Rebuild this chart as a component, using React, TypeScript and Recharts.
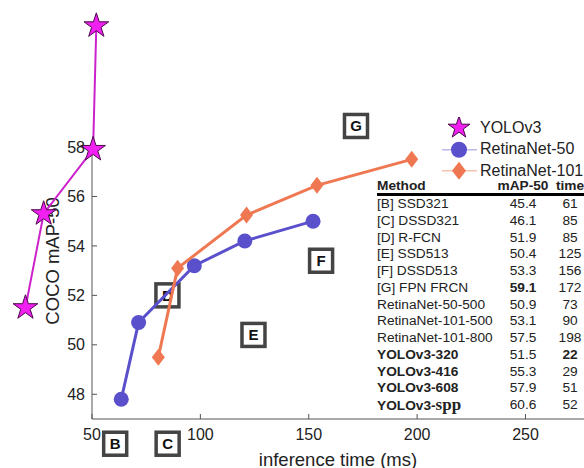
import React from "react";
import { ComposedChart, Scatter, XAxis, YAxis, ReferenceDot, Legend, Symbols } from "recharts";

// series values (time in ms, COCO mAP-50)
const yoloTime = [19.3, 27.7, 50.5, 52.0];
const yoloMap = [51.5, 55.3, 57.9, 62.9];
const r50Time = [63.5, 71.5, 97.2, 120.5, 152];
const r50Map = [47.8, 50.9, 53.2, 54.2, 55.0];
const r101Time = [80.6, 89.5, 121.3, 153.8, 197.5];
const r101Map = [49.5, 53.1, 55.25, 56.45, 57.5];

// lettered boxes for the other detectors
const boxLetters = ["B", "C", "D", "E", "F", "G"];
const boxTime = [60.7, 84.9, 84.8, 124.5, 155.7, 171.8];
const boxMap = [46.0, 46.0, 52.0, 50.4, 53.4, 58.85];

const xTicks = [50, 100, 150, 200, 250];
const yTicks = [48, 50, 52, 54, 56, 58];

// inset table
const tableMethods = [
  "[B] SSD321", "[C] DSSD321", "[D] R-FCN", "[E] SSD513", "[F] DSSD513", "[G] FPN FRCN",
  "RetinaNet-50-500", "RetinaNet-101-500", "RetinaNet-101-800",
  "YOLOv3-320", "YOLOv3-416", "YOLOv3-608", "YOLOv3-spp",
];
const tableMap = ["45.4", "46.1", "51.9", "50.4", "53.3", "59.1", "50.9", "53.1", "57.5", "51.5", "55.3", "57.9", "60.6"];
const tableTime = ["61", "85", "85", "125", "156", "172", "73", "90", "198", "22", "29", "51", "52"];

const FONT = "'Liberation Sans', Arial, Helvetica, sans-serif";
const TEXT = "#222";
const AXIS = "#555";

const YOLO_FILL = "#f020f0";
const YOLO_LINE = "#cc22cc";
const R50 = "#5b50cc";
const R101 = "#ef7852";

const toPoints = (ts: number[], ms: number[]) => ts.map((t, i) => ({ t, m: ms[i] }));
const yoloData = toPoints(yoloTime, yoloMap);
const r50Data = toPoints(r50Time, r50Map);
const r101Data = toPoints(r101Time, r101Map);

const drawStar = (cx: number, cy: number, size = 190) => (
  <Symbols type="star" size={size} cx={cx} cy={cy} fill={YOLO_FILL} stroke="#4a0a4a" strokeWidth={1} />
);
const drawCircle = (cx: number, cy: number, r = 7.5) => <circle cx={cx} cy={cy} r={r} fill={R50} />;
const drawDiamond = (cx: number, cy: number, w = 6.5, h = 8.5) => (
  <path d={`M${cx},${cy - h}L${cx + w},${cy}L${cx},${cy + h}L${cx - w},${cy}Z`} fill={R101} />
);

const StarShape = (p: any) => drawStar(p.cx, p.cy);
const CircleShape = (p: any) => drawCircle(p.cx, p.cy);
const DiamondShape = (p: any) => drawDiamond(p.cx, p.cy);

const legendItems = [
  { name: "YOLOv3", line: null, marker: (x: number, y: number) => drawStar(x, y, 150) },
  { name: "RetinaNet-50", line: "#bdb8ea", marker: (x: number, y: number) => drawCircle(x, y, 8) },
  { name: "RetinaNet-101", line: "#f6c4ae", marker: (x: number, y: number) => drawDiamond(x, y, 7, 9) },
];

const renderLegend = () => (
  <div style={{ fontFamily: FONT, fontSize: 16, color: TEXT, whiteSpace: "nowrap" }}>
    {legendItems.map((item) => (
      <div key={item.name} style={{ display: "flex", alignItems: "center", height: 21.5 }}>
        <svg width={42} height={21.5} style={{ flex: "none" }}>
          {item.line && <line x1={4} x2={39} y1={10.75} y2={10.75} stroke={item.line} strokeWidth={1.5} />}
          {item.marker(21, 10.75)}
        </svg>
        <span>{item.name}</span>
      </div>
    ))}
  </div>
);

const LetterBox = (p: any) => (
  <g>
    <rect x={p.cx - 11.5} y={p.cy - 11.5} width={23} height={23} fill="rgba(255,255,255,0.75)" stroke="#444" strokeWidth={3.5} />
    <text x={p.cx} y={p.cy} textAnchor="middle" dominantBaseline="central" fontFamily={FONT} fontWeight="bold" fontSize={15} fill="#111">
      {p.letter}
    </text>
  </g>
);

const YLabel = (p: any) => {
  const vb = p.viewBox;
  const x = vb.x + 52;
  const y = vb.y + vb.height / 2 - 22;
  return (
    <text x={x} y={y} transform={`rotate(-90 ${x} ${y})`} textAnchor="middle" dominantBaseline="central" fontFamily={FONT} fontSize={18.5} fill={TEXT}>
      COCO mAP-50
    </text>
  );
};

const MethodCell = ({ name }: { name: string }) => {
  if (name.endsWith("-spp")) {
    return (
      <span>
        {name.slice(0, -3)}
        <span style={{ fontFamily: "'Liberation Serif', 'Times New Roman', serif", fontSize: 17 }}>spp</span>
      </span>
    );
  }
  return <span>{name}</span>;
};

const InsetTable = () => (
  <div style={{ position: "absolute", left: 377, top: 178, width: 207, fontFamily: FONT, fontSize: 13.7, color: TEXT, whiteSpace: "nowrap" }}>
    <div style={{ display: "flex", height: 15, lineHeight: "15px", fontWeight: "bold", borderBottom: "3px solid #000" }}>
      <div style={{ width: 120, flex: "none" }}>Method</div>
      <div style={{ width: 52, flex: "none", textAlign: "center" }}>mAP-50</div>
      <div style={{ width: 42, flex: "none", textAlign: "center" }}>time</div>
    </div>
    {tableMethods.map((m, i) => (
      <div key={m} style={{ display: "flex", height: 16.75, lineHeight: "16.75px" }}>
        <div style={{ width: 120, flex: "none", fontWeight: i >= 9 ? "bold" : "normal" }}>
          <MethodCell name={m} />
        </div>
        <div style={{ width: 52, flex: "none", textAlign: "center", fontWeight: i === 5 ? "bold" : "normal" }}>{tableMap[i]}</div>
        <div style={{ width: 42, flex: "none", textAlign: "center", fontWeight: i === 9 ? "bold" : "normal" }}>{tableTime[i]}</div>
      </div>
    ))}
  </div>
);

export default function App() {
  return (
    <div style={{ position: "relative", width: 584, height: 468, overflow: "hidden", background: "#fff" }}>
      <style>{`body{margin:0}.recharts-surface{overflow:visible}.recharts-surface g[clip-path]{clip-path:none !important}`}</style>
      <ComposedChart width={584} height={468} margin={{ top: 147, right: 0, bottom: 0, left: 0 }}>
        <XAxis
          type="number"
          dataKey="t"
          domain={[50, 277]}
          allowDataOverflow
          ticks={xTicks}
          height={49}
          stroke={AXIS}
          tickSize={-5}
          tickMargin={15}
          tick={{ fill: TEXT, fontSize: 16, fontFamily: FONT }}
          label={{ value: "inference time (ms)", position: "insideBottom", offset: 2.5, fill: TEXT, fontSize: 18.5, fontFamily: FONT }}
        />
        <YAxis
          type="number"
          dataKey="m"
          domain={[47, 58]}
          allowDataOverflow
          ticks={yTicks}
          width={92}
          stroke={AXIS}
          tickSize={-5}
          tickMargin={12}
          tick={{ fill: TEXT, fontSize: 16, fontFamily: FONT }}
          label={{ content: YLabel }}
        />
        {boxLetters.map((letter, i) => (
          <ReferenceDot
            key={letter}
            x={boxTime[i]}
            y={boxMap[i]}
            ifOverflow="visible"
            shape={(p: any) => <LetterBox {...p} letter={letter} />}
          />
        ))}
        <Scatter name="YOLOv3" data={yoloData} line={{ stroke: YOLO_LINE, strokeWidth: 2 }} shape={StarShape} isAnimationActive={false} />
        <Scatter name="RetinaNet-50" data={r50Data} line={{ stroke: R50, strokeWidth: 3 }} shape={CircleShape} isAnimationActive={false} />
        <Scatter name="RetinaNet-101" data={r101Data} line={{ stroke: R101, strokeWidth: 3 }} shape={DiamondShape} isAnimationActive={false} />
        <Legend
          layout="vertical"
          align="center"
          verticalAlign="middle"
          content={renderLegend}
          wrapperStyle={{ left: 438, top: 117, width: 146, height: 65 }}
        />
      </ComposedChart>
      <InsetTable />
    </div>
  );
}
